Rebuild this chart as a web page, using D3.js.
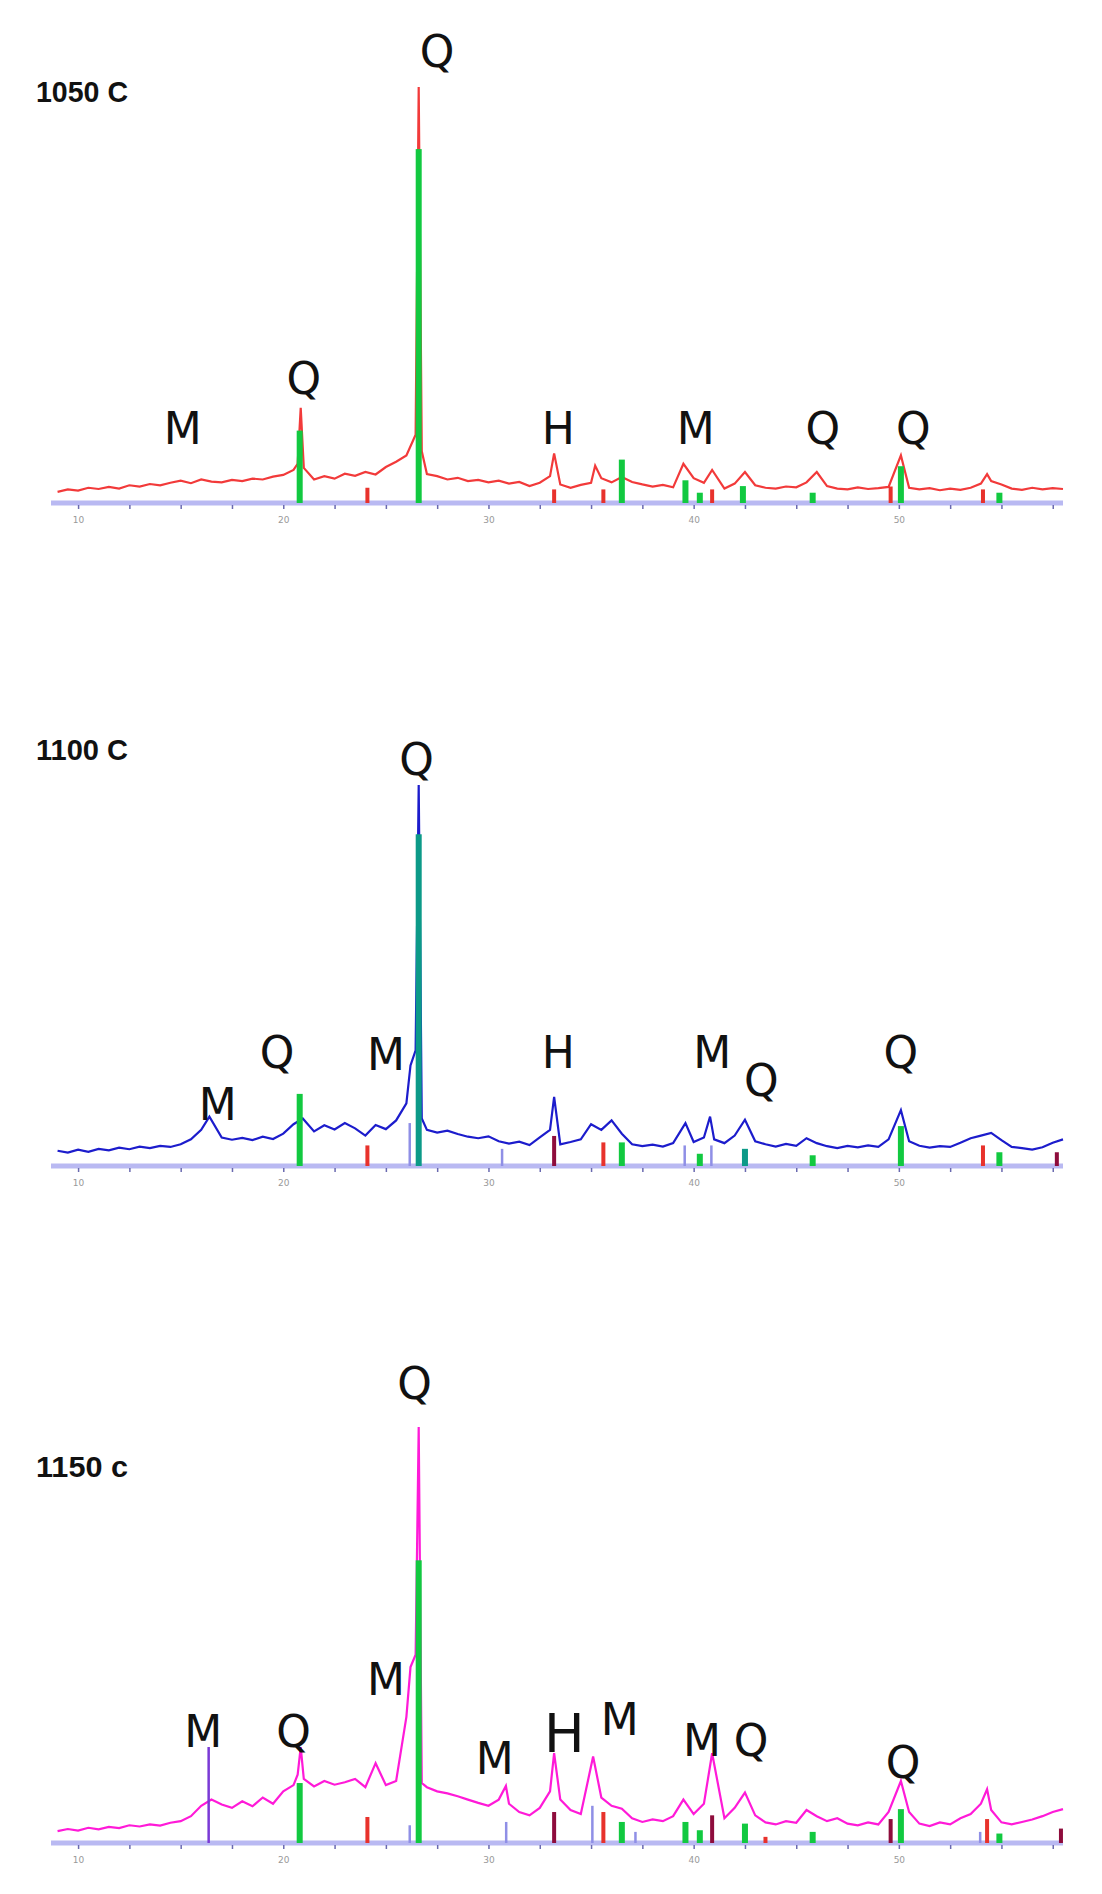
<!DOCTYPE html>
<html><head><meta charset="utf-8">
<script src="https://cdn.jsdelivr.net/npm/d3@7"></script>
<style>body{margin:0;background:#fff}</style></head>
<body><svg id="c" width="1102" height="1894"></svg>
<script>
// background intensity (% of main peak) from 9.0 to 58.0 step 0.5
const thetaStart = 9, thetaStep = 0.5;
const bg1050 = [2.2,2.8,2.5,3.2,2.9,3.4,3.0,3.8,3.5,4.1,3.8,4.4,4.9,4.3,5.2,4.7,4.5,5.1,4.8,5.4,5.2,5.9,6.3,7.5,6.8,5.2,6.0,5.4,6.6,6.1,7.0,6.4,8.2,9.5,11,14,6.5,6.0,5.2,5.6,4.8,5.1,4.5,4.9,4.2,4.6,3.6,4.4,6.0,4.0,3.2,3.9,4.4,5.5,4.5,5.8,4.6,4.0,3.5,3.9,3.3,4.8,5.5,4.4,3.6,3.0,4.2,5.0,3.8,3.2,3.0,3.5,3.3,4.5,5.0,3.6,3.0,2.8,3.3,2.9,3.1,3.4,6.0,3.2,2.8,3.1,2.6,3.0,2.7,3.2,4.2,4.8,4.0,3.0,2.7,3.2,2.8,3.1,2.9];
const bg1100 = [3.5,3.0,3.8,3.2,4.0,3.6,4.3,3.9,4.6,4.2,4.8,4.5,5.2,6.5,9.0,9.5,7.0,6.4,6.9,6.3,7.2,6.6,8.0,10.5,10.0,8.6,10.2,9.1,10.8,9.4,7.5,10.3,9.2,11.5,16,30,9.0,8.3,8.8,7.9,7.2,6.8,7.3,6.0,5.4,5.9,5.0,7.0,9.0,5.2,5.8,6.5,10.5,9.0,11.5,8.0,5.2,4.7,5.1,4.6,5.5,6.0,5.8,7.0,6.5,5.5,7.5,8.0,6.0,5.2,4.6,5.3,4.8,6.8,5.5,4.7,4.2,4.8,4.4,4.9,4.5,6.5,9.0,6.0,4.8,4.3,4.7,4.5,5.6,6.8,7.5,8.2,6.3,4.5,4.2,3.8,4.4,5.6,6.5];
const bg1150 = [2.4,2.9,2.5,3.2,2.8,3.4,3.1,3.8,3.5,4.0,3.7,4.4,4.8,6.0,8.5,10,8.8,8.0,9.6,8.4,10.5,9.0,12.0,13.5,15,13.2,14.5,13.6,14.2,15.0,13.0,18.8,13.5,14.5,30,45,13,12.0,11.5,10.8,10.0,9.2,8.5,10,9.0,7.0,6.2,8.0,12,10,7.5,6.5,12,10.5,8.5,7.8,5.5,4.6,5.2,4.8,6.0,10,6.5,9.0,8.0,5.5,8.0,11.7,6.2,4.5,4.0,4.8,4.4,7.5,6.0,4.8,5.5,4.2,3.8,4.5,4.0,7.0,12,7.0,4.2,3.6,4.5,4.0,5.5,6.5,9.0,7.5,4.5,4.0,4.6,5.2,6.0,7.0,7.7];
// sharp peaks [2theta, intensity]
const pk1050 = [[20.7,9],[20.85,22.5],[21.0,8],[26.45,16],[26.6,100],[26.75,12],[33.2,11.5],[35.2,8.5],[39.5,9],[40.9,7.5],[42.5,7],[46.0,7],[50.1,11],[54.3,6.5]];
const pk1100 = [[16.4,12.5],[20.75,12],[20.85,26.6],[20.95,12],[26.2,26],[26.45,30],[26.6,100],[26.75,12],[33.2,17.7],[39.6,10.8],[40.8,12.5],[42.5,11.7],[50.1,14.2]];
const pk1150 = [[16.3,10],[16.4,22.7],[16.5,10],[20.7,16],[20.85,22.7],[21.0,15],[26.2,42],[26.45,45],[26.6,100],[26.75,14],[30.85,13.3],[33.2,21.2],[35.1,20.4],[40.9,21.2],[50.1,14.5],[54.3,12.5]];
// reference sticks [2theta, height, phase]
const st1050 = [[20.8,17,"Q"],[24.1,3.2,"R"],[26.6,85,"Q"],[33.2,2.8,"R"],[35.6,2.8,"R"],[36.5,10,"Q"],[39.6,5,"Q"],[40.3,2,"Q"],[40.9,2.8,"R"],[42.4,3.6,"Q"],[45.8,2,"Q"],[49.6,3.5,"R"],[50.1,8.4,"Q"],[54.1,2.8,"R"],[54.9,2,"Q"]];
const st1100 = [[20.8,18.5,"Q"],[24.1,4.9,"R"],[26.2,10.8,"B"],[26.6,87,"T"],[30.7,4,"B"],[33.2,7.4,"D"],[35.6,5.7,"R"],[36.5,5.7,"Q"],[39.6,4.9,"B"],[40.3,2.7,"Q"],[40.9,4.9,"B"],[42.5,4,"T"],[45.8,2.3,"Q"],[50.1,10,"Q"],[54.1,4.9,"R"],[54.9,3.1,"Q"],[57.7,3.1,"D"]];
const st1150 = [[16.4,22.7,"V"],[20.8,14,"Q"],[24.1,5.8,"R"],[26.2,3.8,"B"],[26.6,67.8,"Q"],[30.9,4.6,"B"],[33.2,7,"D"],[35.1,8.5,"B"],[35.6,7,"R"],[36.5,4.6,"Q"],[37.2,2.2,"B"],[39.6,4.6,"Q"],[40.3,2.6,"Q"],[40.9,6.2,"D"],[42.5,4.2,"Q"],[43.5,1,"R"],[45.8,2.2,"Q"],[49.6,5.3,"D"],[50.1,7.7,"Q"],[54.0,2.2,"B"],[54.3,5.3,"R"],[54.9,1.8,"Q"],[57.9,3,"D"]];
// annotations [text, 2theta, label baseline in px above axis]
const lab1050 = [["Q",27.5,436],["Q",21.0,109],["M",15.1,59],["H",33.4,59],["M",40.1,59],["Q",46.3,59],["Q",50.7,59]];
const lab1100 = [["Q",26.5,391],["Q",19.7,98],["M",25.0,96],["M",16.8,46],["H",33.4,98],["M",40.9,98],["Q",43.3,70],["Q",50.1,98]];
const lab1150 = [["Q",26.4,444],["M",25.0,148],["M",16.1,96],["Q",20.5,96],["M",30.3,69],["H",33.7,91],["M",36.4,108],["M",40.4,87],["Q",42.8,87],["Q",50.2,65]];
const tickLabels = [10,20,30,40,50];
const titles = ["1050 C","1100 C","1150 c"];

const phaseColor = {Q:"#12c940",R:"#e8322c",D:"#8e0c3c",B:"#8f8fe6",T:"#0c9a88",V:"#7a3ad6"};
const panels = [
 {bg:bg1050,pk:pk1050,st:st1050,lab:lab1050,color:"#f23a3a",axisY:503,topY:87,titleY:102},
 {bg:bg1100,pk:pk1100,st:st1100,lab:lab1100,color:"#1c1ccc",axisY:1166,topY:785,titleY:760},
 {bg:bg1150,pk:pk1150,st:st1150,lab:lab1150,color:"#ff1ad8",axisY:1843,topY:1427,titleY:1477,big:"H"}
];
const svg = d3.select("#c");
const x = d3.scaleLinear().domain([8.68,58]).range([51,1063]);
panels.forEach((p,i)=>{
  const y = d3.scaleLinear().domain([0,100]).range([p.axisY-2,p.topY]);
  const g = svg.append("g");
  g.append("line").attr("x1",x(8.68)).attr("x2",x(58)).attr("y1",p.axisY).attr("y2",p.axisY)
    .attr("stroke","#b9b9f2").attr("stroke-width",5);
  const ax = d3.axisBottom(x).tickValues(d3.range(10,58.1,2.5)).tickSize(4)
    .tickFormat(d=>tickLabels.includes(d)?d:"");
  const ag = g.append("g").attr("transform",`translate(0,${p.axisY+2})`).call(ax);
  ag.select(".domain").remove();
  ag.selectAll(".tick line").attr("stroke","#6a6ab0").attr("stroke-width",1.5);
  ag.selectAll("text").attr("fill","#999").attr("font-size",9).attr("font-family","DejaVu Sans").attr("dy","1.2em");
  const pts = p.bg.map((v,k)=>[thetaStart+k*thetaStep,v]);
  p.pk.forEach(q=>{ for(let k=pts.length-1;k>=0;k--) if(Math.abs(pts[k][0]-q[0])<0.12) pts.splice(k,1); pts.push(q); });
  pts.sort((a,b)=>a[0]-b[0]);
  g.append("path").datum(pts).attr("fill","none").attr("stroke",p.color).attr("stroke-width",2.2)
    .attr("d",d3.line().x(d=>x(d[0])).y(d=>y(d[1])));
  g.selectAll(".st").data(p.st).join("rect")
    .attr("x",d=>x(d[0])-(d[2]==="Q"||d[2]==="T"?3:2)).attr("width",d=>d[2]==="Q"||d[2]==="T"?6:(d[2]==="B"||d[2]==="V"?2.5:4))
    .attr("y",d=>y(d[1])).attr("height",d=>p.axisY-y(d[1]))
    .attr("fill",d=>phaseColor[d[2]]);
  g.selectAll(".lb").data(p.lab).join("text")
    .attr("x",d=>x(d[1])).attr("y",d=>p.axisY-d[2]).attr("text-anchor","middle")
    .attr("font-family","DejaVu Sans").attr("font-size",d=>p.big===d[0]?54:44).attr("fill","#111").text(d=>d[0]);
  g.append("text").attr("x",36).attr("y",p.titleY).attr("font-family","Liberation Sans Narrow, Liberation Sans")
    .attr("font-weight","bold").attr("font-size",30).attr("textLength",92).attr("lengthAdjust","spacingAndGlyphs")
    .attr("fill","#111").text(titles[i]);
});
</script></body></html>
